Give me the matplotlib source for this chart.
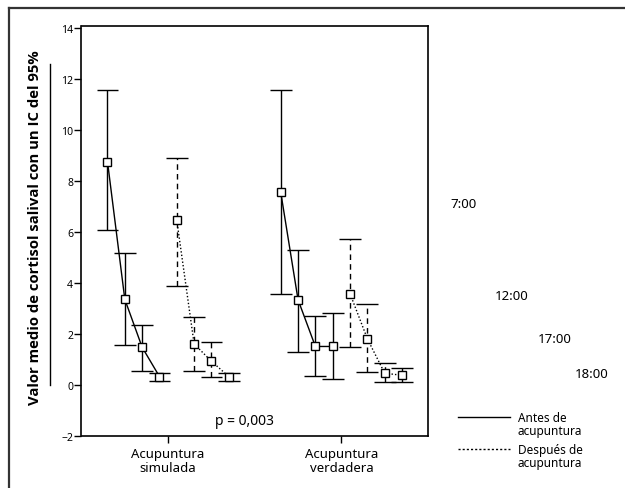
import numpy as np
import matplotlib
matplotlib.use("Agg")
import matplotlib.pyplot as plt
from matplotlib.lines import Line2D

plt.rcParams['font.family'] = ['Noto Sans', 'DejaVu Sans']

# data
categories = ["Acupuntura\nsimulada", "Acupuntura\nverdadera"]
times = ["7:00", "12:00", "17:00", "18:00"]

before_mean = [[8.75, 3.35, 1.47, 0.32], [7.55, 3.33, 1.50, 1.50]]
before_lo = [[6.05, 1.54, 0.53, 0.16], [3.55, 1.29, 0.35, 0.24]]
before_hi = [[11.55, 5.15, 2.35, 0.44], [11.55, 5.30, 2.70, 2.83]]

after_mean = [[6.45, 1.60, 0.92, 0.32], [3.57, 1.80, 0.45, 0.37]]
after_lo = [[3.87, 0.54, 0.29, 0.16], [1.47, 0.48, 0.11, 0.11]]
after_hi = [[8.90, 2.65, 1.67, 0.44], [5.70, 3.17, 0.87, 0.64]]

W, H = 625, 489
fig = plt.figure(figsize=(W / 100, H / 100), dpi=100)
ax = fig.add_axes([81.5 / W, 1 - 436.7 / H, (428 - 81.5) / W, (436.7 - 27) / H])

lw = 1.0
cap = 0.063
step = 0.1


def draw_series(g, means, lo, hi, start, line_ls, bar_ls):
    x = g + start + step * np.arange(len(means))
    ax.vlines(x, lo, hi, colors="black", linewidth=lw, linestyles=bar_ls)
    ax.hlines(lo, x - cap, x + cap, colors="black", linewidth=lw)
    ax.hlines(hi, x - cap, x + cap, colors="black", linewidth=lw)
    ax.plot(x, means, color="black", linewidth=lw, linestyle=line_ls,
            marker="s", markersize=5.5, markerfacecolor="white",
            markeredgecolor="black", markeredgewidth=1.0, zorder=5)


for g in range(len(categories)):
    draw_series(g, before_mean[g], before_lo[g], before_hi[g], -0.35,
                "-", "solid")
    draw_series(g, after_mean[g], after_lo[g], after_hi[g], 0.05,
                (0, (1, 1.5)), (0, (4, 3)))

ax.set_xlim(-0.5, 1.5)
ax.set_ylim(-2, 14.07)
ax.set_yticks(np.arange(-2, 15, 2))
ax.set_yticklabels(["\u22122"] + [str(v) for v in range(0, 15, 2)])
ax.set_xticks(range(len(categories)))
ax.set_xticklabels(categories, fontsize=9.5, linespacing=1.15)
ax.tick_params(axis="y", labelsize=7.5, length=5, width=1, pad=1)
ax.tick_params(axis="x", length=5, width=1, pad=3)
for s in ax.spines.values():
    s.set_linewidth(1.2)

ax.text(0.44, -1.4, "p = 0,003", fontsize=10, ha="center", va="center")

# y label and the rule beside it
fig.text(35 / W, 1 - 228 / H, "Valor medio de cortisol salival con un IC del 95%",
         rotation=90, fontsize=10.7, fontweight="bold", ha="center", va="center",
         family=["Open Sans", "DejaVu Sans"])
fig.add_artist(Line2D([50 / W, 50 / W], [1 - 65 / H, 1 - 386 / H],
                      color="black", linewidth=1.0))

# time labels
time_pos = [(450, 205), (495, 297), (538, 340), (575, 375)]
for t, (px, py) in zip(times, time_pos):
    fig.text(px / W, 1 - py / H, t, fontsize=9.5, ha="left", va="center")

# legend
fig.add_artist(Line2D([458 / W, 510 / W], [1 - 418 / H, 1 - 418 / H],
                      color="black", linewidth=1.0))
fig.add_artist(Line2D([458 / W, 510 / W], [1 - 450 / H, 1 - 450 / H],
                      color="black", linewidth=1.0, linestyle=(0, (1.5, 1.5))))
fig.text(518 / W, 1 - 425 / H, "Antes de\nacupuntura", fontsize=8.5,
         ha="left", va="center", linespacing=1.0)
fig.text(518 / W, 1 - 457 / H, "Después de\nacupuntura", fontsize=8.5,
         ha="left", va="center", linespacing=1.0)

# outer frame (top and left edges)
fig.add_artist(Line2D([9 / W, 9 / W], [0, 1 - 9 / H], color="#333333", linewidth=1.6))
fig.add_artist(Line2D([9 / W, 1], [1 - 9 / H, 1 - 9 / H], color="#333333", linewidth=1.6))

fig.savefig("out.png", dpi=100)
